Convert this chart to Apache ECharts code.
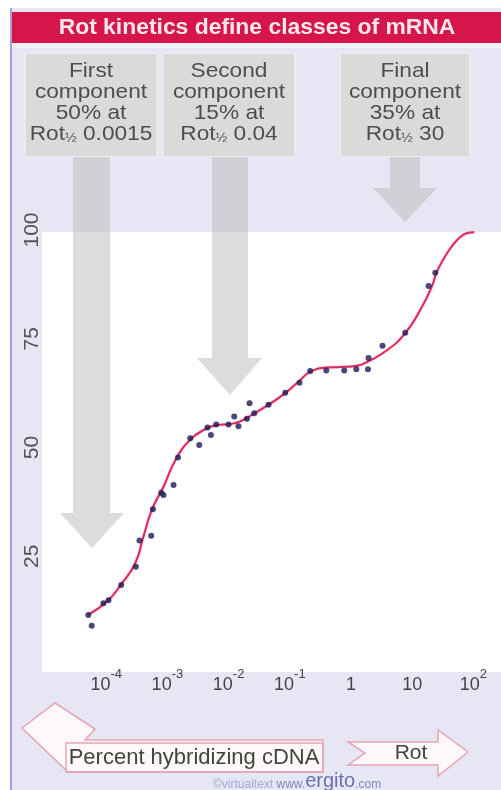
<!DOCTYPE html>
<html>
<head>
<meta charset="utf-8">
<style>
  html, body { margin: 0; padding: 0; background: #ffffff; }
  #chart { width: 501px; height: 790px; }
</style>
<script src="https://cdn.jsdelivr.net/npm/echarts@6/dist/echarts.min.js"></script>
</head>
<body>
<div id="chart"></div>
<script>
// Measured hybridization points: Rot (mol·s/L) and percent hybridized cDNA
const pointRot = [
  5.1e-5, 5.8e-5, 9.0e-5, 1.09e-4, 1.76e-4, 3.05e-4, 3.5e-4, 5.43e-4, 5.79e-4,
  7.92e-4, 8.64e-4, 1.26e-3, 1.49e-3, 2.36e-3, 3.31e-3, 4.52e-3, 5.14e-3, 6.27e-3,
  9.96e-3, 0.01235, 0.0145, 0.0199, 0.022, 0.0262, 0.0449, 0.0841, 0.144, 0.215,
  0.394, 0.774, 1.22, 1.89, 1.93, 3.27, 7.69, 18.5, 23.8
];
const pointPercent = [
  11.5, 9.0, 14.2, 14.9, 18.4, 22.6, 28.6, 29.7, 35.8,
  39.6, 39.1, 41.4, 47.7, 52.1, 50.6, 54.6, 52.9, 55.3,
  55.3, 57.1, 54.9, 56.6, 60.2, 57.9, 59.8, 62.6, 64.9, 67.6,
  67.7, 67.7, 68.0, 68.0, 70.6, 73.4, 76.4, 87.1, 90.2
];

// Fitted three-component kinetics curve
const curveRot = [
  5.08e-5, 1.08e-4, 1.76e-4, 2.98e-4, 4.03e-4, 5.65e-4, 8.53e-4, 1.34e-3, 2.36e-3,
  4.15e-3, 6.27e-3, 0.0106, 0.0155, 0.0252, 0.0444, 0.0841, 0.1426, 0.215, 0.408,
  0.667, 1.26, 1.91, 3.91, 7.69, 13.5, 21.0, 25.6, 37.3, 54.3, 79.3, 103
];
const curvePercent = [
  11.5, 14.9, 18.6, 23.4, 29.4, 35.9, 40.8, 47.0, 51.8,
  54.2, 55.1, 55.4, 56.0, 57.7, 59.8, 62.5, 65.3, 67.4, 68.4,
  68.5, 68.8, 69.8, 72.4, 76.3, 81.6, 87.1, 90.6, 94.7, 97.7, 99.3, 99.5
];

// Axis ticks
const xTickExponents = [-4, -3, -2, -1, 0, 1, 2];
const yTicks = [25, 50, 75, 100];

// Annotation texts
const titleText = 'Rot kinetics define classes of mRNA';
const componentNotes = [
  'First\ncomponent\n50% at\nRot{s|½} 0.0015',
  'Second\ncomponent\n15% at\nRot{s|½} 0.04',
  'Final\ncomponent\n35% at\nRot{s|½} 30'
];
const yAxisName = 'Percent hybridizing cDNA';
const xAxisName = 'Rot';

const FONT = '"Liberation Sans", Arial, Helvetica, sans-serif';

function xTickLabel(v) {
  const e = Math.log10(v);
  const r = Math.round(e);
  if (Math.abs(e - r) > 1e-6 || xTickExponents.indexOf(r) < 0) return '';
  if (r === 0) return '{b|1}';
  if (r === 1) return '{b|10}';
  return '{b|10}{s|' + r + '}';
}

const chart = echarts.init(document.getElementById('chart'), null, { renderer: 'canvas' });

const noteStyle = function (cx, txt) {
  return {
    type: 'text', z: 3, x: cx, y: 103, scaleX: 1.08,
    style: {
      text: txt, fill: '#4e4e4e', font: '21px ' + FONT,
      align: 'center', verticalAlign: 'middle', lineHeight: 21,
      rich: {
        s: { fontSize: 13, fontFamily: FONT, fill: '#4e4e4e', verticalAlign: 'bottom', lineHeight: 21, padding: [8, 0, 0, 0] }
      }
    }
  };
};

const arrowFill = 'rgba(185,185,185,0.5)';

chart.setOption({
  animation: false,
  grid: { left: 45, right: 0, top: 230, bottom: 125, containLabel: false },
  xAxis: {
    type: 'log', logBase: 10, min: 1e-5, max: 282,
    axisLine: { show: false }, axisTick: { show: false }, splitLine: { show: false },
    axisLabel: {
      margin: 3, formatter: xTickLabel, showMinLabel: false, showMaxLabel: false,
      rich: {
        b: { fontSize: 18, fontFamily: FONT, color: '#444', lineHeight: 26, verticalAlign: 'bottom' },
        s: { fontSize: 13, fontFamily: FONT, color: '#444', verticalAlign: 'top' }
      }
    }
  },
  yAxis: {
    type: 'value', min: 0, max: 100, interval: 25,
    axisLine: { show: false }, axisTick: { show: false }, splitLine: { show: false },
    axisLabel: {
      rotate: 90, margin: 2, fontSize: 21, fontFamily: FONT, color: '#555',
      formatter: function (v) { return yTicks.indexOf(v) >= 0 ? String(v) : ''; }
    }
  },
  graphic: [
    // page frame
    { type: 'rect', z: -10, shape: { x: 12, y: 8, width: 489, height: 782 }, style: { fill: '#e6e6f4' } },
    { type: 'rect', z: -9, shape: { x: 10, y: 8, width: 2, height: 782 }, style: { fill: '#a2a2de' } },
    // title bar
    { type: 'rect', z: -8, shape: { x: 12, y: 12, width: 489, height: 31 }, style: { fill: '#d6154a' } },
    { type: 'rect', z: -8, shape: { x: 12, y: 43, width: 489, height: 5 }, style: { fill: '#eef2f8' } },
    { type: 'text', z: 3, x: 257, y: 28, scaleX: 1.04, style: { text: titleText, fill: '#fde8ee', font: 'bold 22px ' + FONT, align: 'center', verticalAlign: 'middle' } },
    // plotting area
    { type: 'rect', z: -7, shape: { x: 42, y: 232, width: 459, height: 440 }, style: { fill: '#ffffff' } },
    // note boxes
    { type: 'rect', z: 1, shape: { x: 25, y: 53, width: 132, height: 104 }, style: { fill: '#dadada', stroke: '#ebebeb', lineWidth: 2 } },
    { type: 'rect', z: 1, shape: { x: 163, y: 53, width: 132, height: 104 }, style: { fill: '#dadada', stroke: '#ebebeb', lineWidth: 2 } },
    { type: 'rect', z: 1, shape: { x: 340, y: 53, width: 130, height: 104 }, style: { fill: '#dadada', stroke: '#ebebeb', lineWidth: 2 } },
    noteStyle(91, componentNotes[0]),
    noteStyle(229, componentNotes[1]),
    noteStyle(405, componentNotes[2]),
    // arrows from the notes
    { type: 'polygon', z: 1, shape: { points: [[73, 157], [110, 157], [110, 513], [124, 513], [92, 548], [60, 513], [73, 513]] }, style: { fill: arrowFill } },
    { type: 'polygon', z: 1, shape: { points: [[212, 157], [248, 157], [248, 358], [262, 358], [230, 395], [197, 358], [212, 358]] }, style: { fill: arrowFill } },
    { type: 'polygon', z: 1, shape: { points: [[390, 157], [420, 157], [420, 188], [437, 188], [405, 222], [373, 188], [390, 188]] }, style: { fill: arrowFill } },
    // axis name arrows
    { type: 'polygon', z: 1, shape: { points: [[22, 728], [55, 703], [95, 729], [85, 740], [323, 740], [323, 772], [68, 772]] }, style: { fill: '#fff8fa', stroke: '#e6a4b4', lineWidth: 1.5 } },
    { type: 'rect', z: 1, shape: { x: 66, y: 743, width: 257, height: 29 }, style: { fill: 'none', stroke: '#e6a4b4', lineWidth: 1.5 } },
    { type: 'text', z: 3, x: 194, y: 758, style: { text: yAxisName, fill: '#3e463a', font: '22px ' + FONT, align: 'center', verticalAlign: 'middle' } },
    { type: 'polygon', z: 1, shape: { points: [[348, 742], [438, 742], [438, 730], [468, 752], [438, 776], [438, 765], [348, 765], [365, 753]] }, style: { fill: '#fff8fa', stroke: '#e6a4b4', lineWidth: 1.5 } },
    { type: 'text', z: 3, x: 411, y: 753, style: { text: xAxisName, fill: '#3e463a', font: '21px ' + FONT, align: 'center', verticalAlign: 'middle' } },
    // credit line
    { type: 'text', z: 3, x: 213, y: 781, style: {
        text: '{a|©virtualtext} {w|www.}{e|ergito}{c|.com}', align: 'left', verticalAlign: 'middle',
        rich: {
          a: { fontSize: 12, fontFamily: FONT, fill: '#a4aad2', verticalAlign: 'bottom' },
          w: { fontSize: 12, fontFamily: FONT, fill: '#8088b8', verticalAlign: 'bottom' },
          e: { fontSize: 20, fontFamily: FONT, fill: '#6a72aa', verticalAlign: 'bottom' },
          c: { fontSize: 12, fontFamily: FONT, fill: '#8088b8', verticalAlign: 'bottom' }
        }
      } }
  ],
  series: [
    {
      type: 'line', smooth: 0.5, symbol: 'none', z: 4,
      lineStyle: { color: '#dc2a5c', width: 2, shadowColor: 'rgba(240,120,160,0.6)', shadowBlur: 2 },
      data: curveRot.map(function (r, i) { return [r, curvePercent[i]]; })
    },
    {
      type: 'scatter', symbol: 'circle', symbolSize: 6, z: 5,
      itemStyle: { color: '#1c1c58' },
      data: pointRot.map(function (r, i) { return [r, pointPercent[i]]; })
    }
  ]
});
</script>
</body>
</html>
